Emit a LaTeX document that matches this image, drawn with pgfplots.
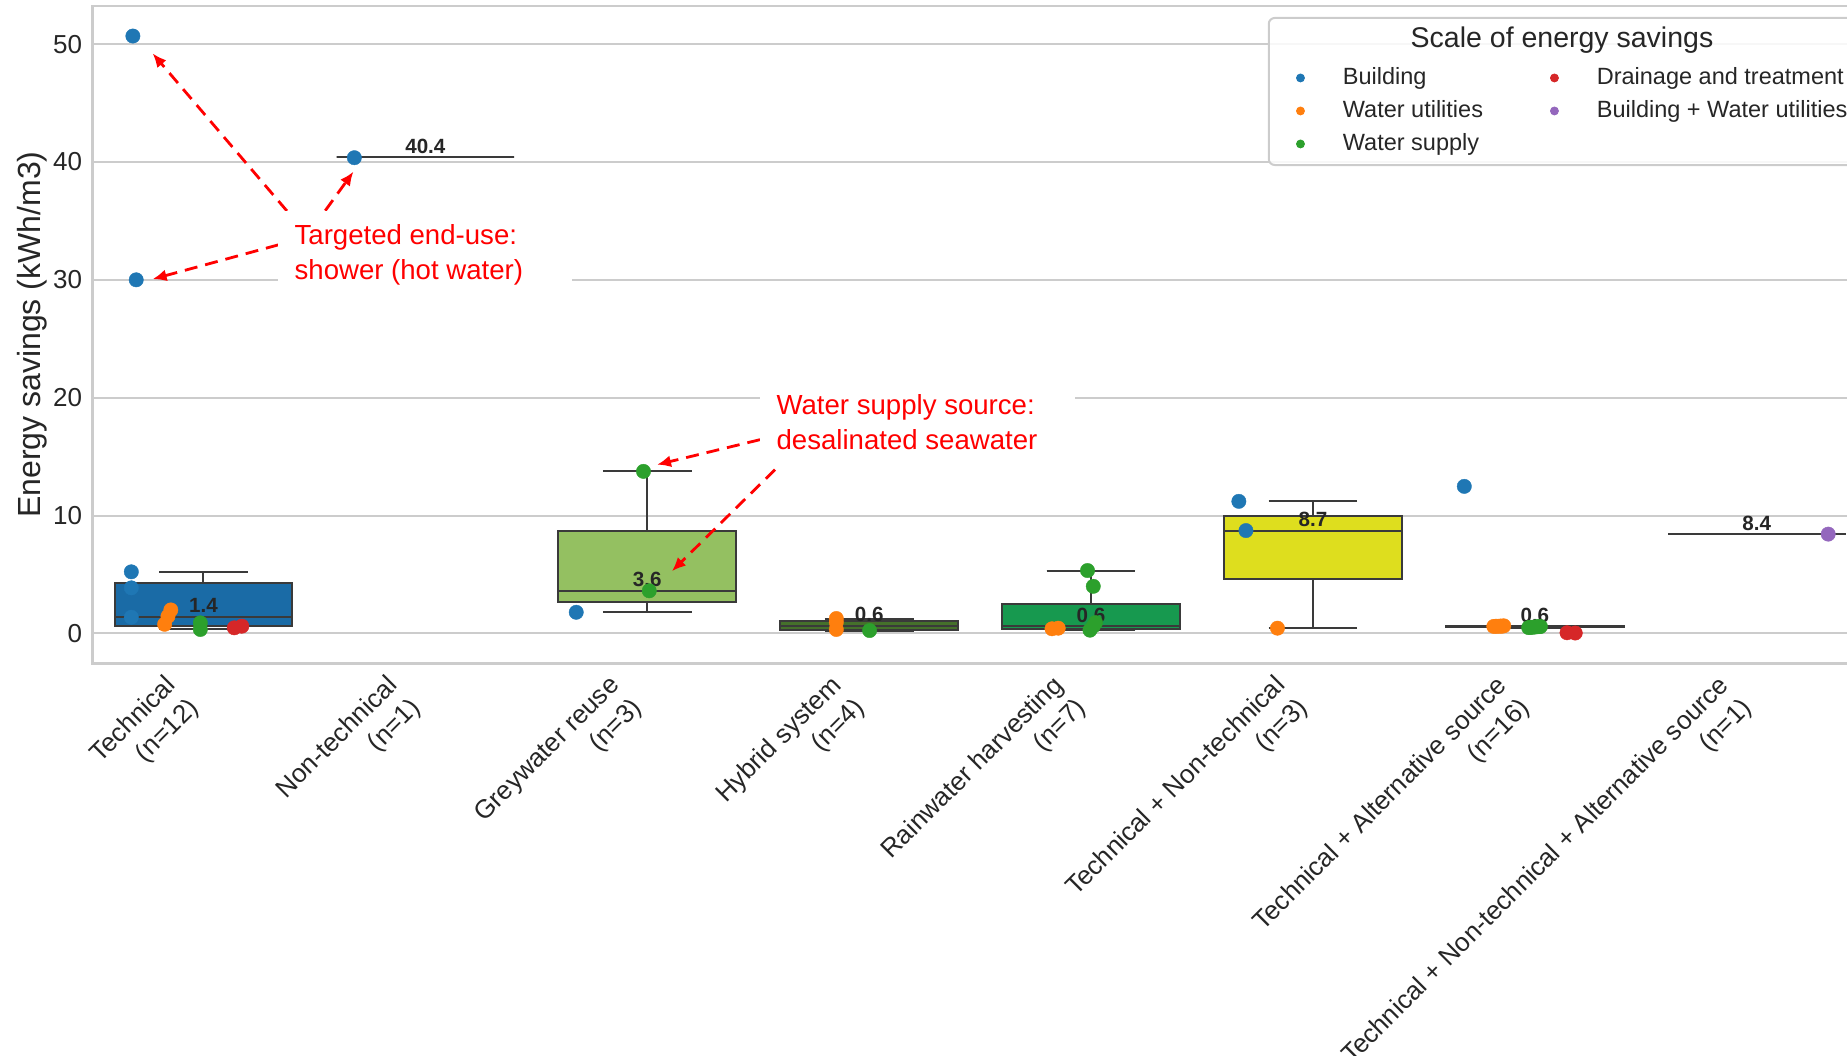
\documentclass[border=0pt]{standalone}
\usepackage{pgfplots}
\pgfplotsset{compat=1.18}
\usepgfplotslibrary{statistics}
\usetikzlibrary{arrows.meta}
\usepackage{fontspec}
\setmainfont{Liberation Sans}
\definecolor{cB}{HTML}{1F77B4}
\definecolor{cWU}{HTML}{FF7F0E}
\definecolor{cWS}{HTML}{2CA02C}
\definecolor{cDT}{HTML}{D62728}
\definecolor{cBW}{HTML}{9467BD}
\definecolor{gridgray}{HTML}{CCCCCC}
\definecolor{txt}{HTML}{262626}
\definecolor{edge}{HTML}{3A3A3A}
\definecolor{fTech}{HTML}{1A6BA6}
\definecolor{fGrey}{HTML}{94C061}
\definecolor{fHyb}{HTML}{45702B}
\definecolor{fRain}{HTML}{17994F}
\definecolor{fTN}{HTML}{DEDE1E}
\definecolor{fNT}{HTML}{D98C3A}
\definecolor{fTA}{HTML}{8C5AA8}
\definecolor{fTNA}{HTML}{6A6A6A}
\definecolor{annred}{HTML}{FF0000}
\tikzset{
  medlab/.style={font=\bfseries\fontsize{10.3}{12}\selectfont, text=txt, anchor=base, inner sep=0pt, yshift=2pt},
  annarrow/.style={annred, line width=1.4pt, dash pattern=on 6.5pt off 4pt, -{Latex[length=7pt,width=6pt]}},
  anntext/.style={anchor=base west, inner sep=0pt, text=annred, font=\fontsize{13.8}{16}\selectfont},
}
\pgfplotsset{
  pts/.style={forget plot, only marks, mark=*, mark size=3.6pt, color=#1, mark options={fill=#1, draw=#1, line width=0.2pt}},
  bx/.style={forget plot, draw=edge, fill=#1, line width=1pt},
}
\begin{document}
\begin{tikzpicture}
\useasboundingbox (-46.25pt,-195.85pt) rectangle (877.25pt,331.65pt);
\clip (-46.25pt,-195.85pt) rectangle (877.25pt,331.65pt);
\begin{axis}[
  at={(0pt,0pt)}, anchor=south west,
  scale only axis, width=887.6pt, height=328.65pt,
  xmin=-0.5, xmax=7.5, ymin=-2.53, ymax=53.23,
  boxplot/draw direction=y,
  axis line style={gridgray, line width=1.2pt},
  ymajorgrids, major grid style={gridgray, line width=1pt},
  major tick length=0pt,
  xtick={0,1,2,3,4,5,6,7},
  xticklabels={{Technical\\(n=12)},{Non-technical\\(n=1)},{Greywater reuse\\(n=3)},{Hybrid system\\(n=4)},{Rainwater harvesting\\(n=7)},{Technical + Non-technical\\(n=3)},{Technical + Alternative source\\(n=16)},{Technical + Non-technical + Alternative source\\(n=1)}},
  ytick={0,10,20,30,40,50},
  tick label style={font=\fontsize{13}{16}\selectfont, text=txt},
  yticklabel style={anchor=east, inner sep=0pt, xshift=-5pt},
  xticklabel style={inner sep=0pt, align=right, xshift=-9.9pt, yshift=-14.9pt, rotate=45, anchor=east},
  /pgf/number format/assume math mode=true,
  ylabel={Energy savings (kWh/m3)},
  ylabel style={font=\fontsize{16}{19}\selectfont, text=txt, at={(axis description cs:-0.0342,0.5)}, anchor=center},
  legend columns=2,
  legend cell align=left,
  legend image code/.code={\fill[#1] (0pt,0pt) circle (2pt);},
  legend style={at={(0.678,0.9074)}, anchor=north west, draw=none, fill=none, inner sep=0pt, outer sep=0pt, row sep=5.4pt, font=\fontsize{11.75}{14}\selectfont, text=txt, nodes={inner sep=0pt, text height=8.6pt, text depth=2.5pt}, /tikz/every odd column/.append style={column sep=19pt}, /tikz/every even column/.append style={column sep=33.5pt}},
]
% legend frame and title
\draw[gridgray, line width=1pt, fill=white, fill opacity=0.85, rounded corners=3pt] (rel axis cs:0.6626,0.7581) rectangle (rel axis cs:1.05,0.9818);
\node[font=\fontsize{14.25}{17}\selectfont, text=txt] at (rel axis cs:0.8278,0.9483) {Scale of energy savings};

% boxes
\addplot[bx=fTech, boxplot prepared={draw position=0, median=1.44, lower quartile=0.62, upper quartile=4.26, lower whisker=0.34, upper whisker=5.23, box extend=0.8, whisker extend=0.4}] coordinates {};
\addplot[bx=fNT, boxplot prepared={draw position=1, median=40.4, lower quartile=40.4, upper quartile=40.4, lower whisker=40.4, upper whisker=40.4, box extend=0.8, whisker extend=0.4}] coordinates {};
\addplot[bx=fGrey, boxplot prepared={draw position=2, median=3.62, lower quartile=2.69, upper quartile=8.73, lower whisker=1.8, upper whisker=13.75, box extend=0.8, whisker extend=0.4}] coordinates {};
\addplot[bx=fHyb, boxplot prepared={draw position=3, median=0.645, lower quartile=0.32, upper quartile=1.03, lower whisker=0.25, upper whisker=1.27, box extend=0.8, whisker extend=0.4}] coordinates {};
\addplot[bx=fRain, boxplot prepared={draw position=4, median=0.62, lower quartile=0.42, upper quartile=2.46, lower whisker=0.28, upper whisker=5.34, box extend=0.8, whisker extend=0.4}] coordinates {};
\addplot[bx=fTN, boxplot prepared={draw position=5, median=8.73, lower quartile=4.58, upper quartile=10.0, lower whisker=0.45, upper whisker=11.21, box extend=0.8, whisker extend=0.4}] coordinates {};
\addplot[bx=fTA, boxplot prepared={draw position=6, median=0.585, lower quartile=0.5275, upper quartile=0.62, lower whisker=0.50, upper whisker=0.65, box extend=0.8, whisker extend=0.4}] coordinates {};
\addplot[bx=fTNA, boxplot prepared={draw position=7, median=8.43, lower quartile=8.43, upper quartile=8.43, lower whisker=8.43, upper whisker=8.43, box extend=0.8, whisker extend=0.4}] coordinates {};

% points: Building
\addplot[pts=cB] coordinates {(-0.318,50.68) (-0.303,30.0) (-0.325,5.23) (-0.325,3.87) (-0.325,1.38) (0.680,40.36) (1.680,1.8) (4.666,11.21) (4.698,8.73) (5.682,12.48)};
% Water utilities
\addplot[pts=cWU] coordinates {(-0.147,2.0) (-0.160,1.45) (-0.175,0.78) (2.852,1.27) (2.852,0.95) (2.852,0.34) (3.824,0.40) (3.852,0.45) (4.840,0.45) (5.815,0.60) (5.825,0.62) (5.835,0.61) (5.845,0.63) (5.852,0.62) (5.860,0.65)};
% Water supply
\addplot[pts=cWS] coordinates {(-0.014,0.9) (-0.014,0.34) (1.983,13.75) (2.009,3.62) (3.002,0.25) (3.984,5.34) (4.010,4.0) (4.020,0.92) (4.010,0.62) (3.995,0.28) (5.972,0.50) (5.980,0.52) (5.990,0.53) (6.000,0.55) (6.010,0.57) (6.018,0.58) (6.025,0.59)};
% Drainage and treatment
\addplot[pts=cDT] coordinates {(0.139,0.48) (0.173,0.62) (6.145,0.06) (6.182,0.04)};
% Building + Water utilities
\addplot[pts=cBW] coordinates {(7.322,8.43)};

% median labels
\node[medlab] at (axis cs:0,1.44) {1.4};
\node[medlab] at (axis cs:1,40.4) {40.4};
\node[medlab] at (axis cs:2,3.62) {3.6};
\node[medlab] at (axis cs:3,0.645) {0.6};
\node[medlab] at (axis cs:4,0.62) {0.6};
\node[medlab] at (axis cs:5,8.73) {8.7};
\node[medlab] at (axis cs:6,0.585) {0.6};
\node[medlab] at (axis cs:7,8.43) {8.4};

% annotations
\draw[annarrow] (axis cs:0.376,35.85) -- (axis cs:-0.229,49.21);
\draw[annarrow] (axis cs:0.549,35.87) -- (axis cs:0.676,39.18);
\draw[annarrow] (axis cs:0.338,32.97) -- (axis cs:-0.229,30.06);
\fill[white] (axis cs:0.337,28.4) rectangle (axis cs:1.661,35.85);
\node[anntext] at (axis cs:0.409,32.97) {Targeted end-use:};
\node[anntext] at (axis cs:0.409,30.0) {shower (hot water)};

\draw[annarrow] (axis cs:2.508,16.44) -- (axis cs:2.044,14.32);
\draw[annarrow] (axis cs:2.576,13.9) -- (axis cs:2.111,5.28);
\fill[white] (axis cs:2.508,14.07) rectangle (axis cs:3.929,21.1);
\node[anntext] at (axis cs:2.581,18.56) {Water supply source:};
\node[anntext] at (axis cs:2.581,15.59) {desalinated seawater};

% legend entries
\addlegendimage{cB}\addlegendentry{Building}
\addlegendimage{cDT}\addlegendentry{Drainage and treatment}
\addlegendimage{cWU}\addlegendentry{Water utilities}
\addlegendimage{cBW}\addlegendentry{Building + Water utilities}
\addlegendimage{cWS}\addlegendentry{Water supply}
\end{axis}
\end{tikzpicture}
\end{document}
